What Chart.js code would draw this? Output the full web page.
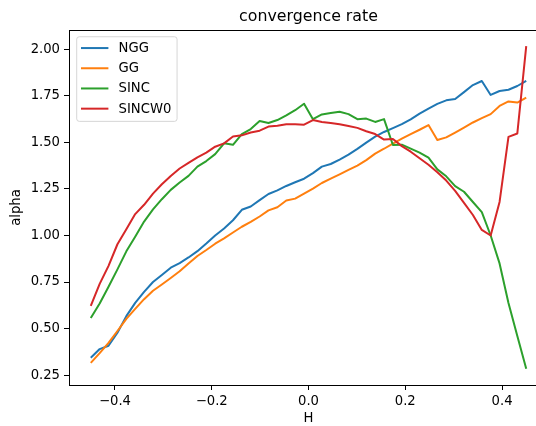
<!DOCTYPE html>
<html>
<head>
<meta charset="utf-8">
<title>convergence rate</title>
<script src="https://cdn.jsdelivr.net/npm/chart.js@4.4.1/dist/chart.umd.min.js"></script>
<style>
  html, body { margin: 0; padding: 0; background: #fff; overflow: hidden; }
  #wrap { width: 536px; height: 426px; overflow: hidden; }
  canvas { display: block; }
</style>
</head>
<body>
<div id="wrap"><canvas id="rate" width="548" height="426"></canvas></div>
<script>
// H grid (50 points, -0.45 .. 0.45)
const H = [
  -0.4500, -0.4316, -0.4133, -0.3949, -0.3765, -0.3582, -0.3398, -0.3214, -0.3031, -0.2847,
  -0.2663, -0.2480, -0.2296, -0.2112, -0.1929, -0.1745, -0.1561, -0.1378, -0.1194, -0.1010,
  -0.0827, -0.0643, -0.0459, -0.0276, -0.0092,  0.0092,  0.0276,  0.0459,  0.0643,  0.0827,
   0.1010,  0.1194,  0.1378,  0.1561,  0.1745,  0.1929,  0.2112,  0.2296,  0.2480,  0.2663,
   0.2847,  0.3031,  0.3214,  0.3398,  0.3582,  0.3765,  0.3949,  0.4133,  0.4316,  0.4500
];

const alphaNGG = [
  0.343, 0.390, 0.408, 0.478, 0.567, 0.638, 0.697, 0.750, 0.788, 0.827,
  0.852, 0.882, 0.916, 0.957, 1.000, 1.038, 1.082, 1.138, 1.156, 1.190,
  1.223, 1.242, 1.266, 1.286, 1.305, 1.335, 1.370, 1.384, 1.408, 1.434,
  1.465, 1.499, 1.531, 1.556, 1.577, 1.598, 1.624, 1.655, 1.682, 1.707,
  1.726, 1.733, 1.770, 1.808, 1.830, 1.755, 1.776, 1.783, 1.803, 1.830
];

const alphaGG = [
  0.316, 0.368, 0.423, 0.487, 0.552, 0.606, 0.658, 0.703, 0.737, 0.772,
  0.808, 0.850, 0.890, 0.922, 0.956, 0.985, 1.016, 1.047, 1.073, 1.102,
  1.135, 1.152, 1.188, 1.198, 1.225, 1.252, 1.282, 1.305, 1.328, 1.352,
  1.375, 1.405, 1.440, 1.466, 1.494, 1.520, 1.545, 1.568, 1.593, 1.513,
  1.527, 1.553, 1.580, 1.607, 1.630, 1.652, 1.696, 1.720, 1.714, 1.740
];

const alphaSINC = [
  0.557, 0.635, 0.725, 0.818, 0.915, 0.993, 1.075, 1.140, 1.195, 1.245,
  1.285, 1.320, 1.370, 1.400, 1.437, 1.495, 1.487, 1.545, 1.572, 1.615,
  1.604, 1.620, 1.645, 1.673, 1.708, 1.625, 1.650, 1.658, 1.665, 1.652,
  1.625, 1.628, 1.610, 1.625, 1.486, 1.488, 1.467, 1.445, 1.418, 1.355,
  1.318, 1.265, 1.235, 1.180, 1.126, 1.000, 0.850, 0.637, 0.460, 0.284
];

const alphaSINCW0 = [
  0.622, 0.740, 0.837, 0.953, 1.033, 1.115, 1.165, 1.225, 1.275, 1.320,
  1.360, 1.390, 1.420, 1.445, 1.477, 1.495, 1.532, 1.538, 1.553, 1.563,
  1.585, 1.590, 1.598, 1.597, 1.595, 1.620, 1.610, 1.604, 1.598, 1.588,
  1.578, 1.560, 1.545, 1.515, 1.518, 1.480, 1.450, 1.415, 1.380, 1.340,
  1.295, 1.240, 1.175, 1.110, 1.030, 1.000, 1.180, 1.530, 1.548, 2.017
];

const seriesNames = ["NGG", "GG", "SINC", "SINCW0"];
const seriesColors = ["#1f77b4", "#ff7f0e", "#2ca02c", "#d62728"];
const xTicks = [-0.4, -0.2, 0.0, 0.2, 0.4];
const yTicks = [0.25, 0.50, 0.75, 1.00, 1.25, 1.50, 1.75, 2.00];

const FONT = "DejaVu Sans";
const tickFont = { family: FONT, size: 13.2 };

const toPoints = (ys) => H.map((h, i) => ({ x: h, y: ys[i] }));
const minus = (s) => s.replace("-", "\u2212");

// axes box drawn on all four sides
const frame = {
  id: "frame",
  afterDatasetsDraw(chart) {
    const { ctx, chartArea: a } = chart;
    ctx.save();
    ctx.strokeStyle = "#000";
    ctx.lineWidth = 1;
    ctx.strokeRect(Math.round(a.left) + 0.5, Math.round(a.top) + 0.5,
                   Math.round(a.right - a.left), Math.round(a.bottom - a.top));
    ctx.restore();
  }
};

// legend sitting inside the plot, upper left
const innerLegend = {
  id: "innerLegend",
  afterDraw(chart) {
    const { ctx, chartArea: a } = chart;
    const fs = 13.2;
    ctx.save();
    ctx.font = fs + "px '" + FONT + "'";
    const textW = Math.max(...seriesNames.map(n => ctx.measureText(n).width));
    const x = a.left + 7.2, y = a.top + 6.3;
    const w = 5.3 + 26.4 + 10.6 + textW + 5.3;
    const h = 84.6;
    ctx.beginPath();
    ctx.roundRect(x + 0.5, y + 0.5, w, h, 2.6);
    ctx.fillStyle = "rgba(255,255,255,0.8)";
    ctx.fill();
    ctx.strokeStyle = "rgba(204,204,204,0.8)";
    ctx.lineWidth = 1;
    ctx.stroke();
    ctx.textBaseline = "middle";
    ctx.textAlign = "left";
    seriesNames.forEach((n, i) => {
      const cy = y + 11.8 + i * 20.2;
      ctx.beginPath();
      ctx.moveTo(x + 4.8, cy);
      ctx.lineTo(x + 32.2, cy);
      ctx.strokeStyle = seriesColors[i];
      ctx.lineWidth = 2;
      ctx.stroke();
      ctx.fillStyle = "#000";
      ctx.fillText(n, x + 42.4, cy + 0.5);
    });
    ctx.restore();
  }
};

const seriesData = [alphaNGG, alphaGG, alphaSINC, alphaSINCW0];

new Chart(document.getElementById("rate"), {
  type: "line",
  data: {
    datasets: seriesData.map((ys, i) => ({
      label: seriesNames[i],
      data: toPoints(ys),
      borderColor: seriesColors[i],
      backgroundColor: seriesColors[i],
      borderWidth: 2,
      pointRadius: 0,
      tension: 0,
      fill: false,
      borderJoinStyle: "round",
      order: seriesData.length - i
    }))
  },
  options: {
    responsive: false,
    animation: false,
    devicePixelRatio: 1,
    events: [],
    layout: { padding: { left: 0, right: 0, top: 0, bottom: 0 } },
    plugins: {
      legend: { display: false },
      tooltip: { enabled: false },
      title: {
        display: true,
        fullSize: false,
        text: "convergence rate",
        color: "#000",
        font: { family: FONT, size: 15.8, weight: "normal", lineHeight: 1.2 },
        padding: { top: 7, bottom: 4 }
      }
    },
    scales: {
      x: {
        type: "linear",
        min: -0.495,
        max: 0.495,
        afterBuildTicks: (s) => { s.ticks = xTicks.map(v => ({ value: v })); },
        afterFit: (s) => { s.height = 41; },
        grid: { display: true, drawOnChartArea: false, drawTicks: true, tickLength: 5, color: "#000", lineWidth: 1 },
        border: { display: false },
        ticks: {
          padding: 4, maxRotation: 0, autoSkip: false, color: "#000", font: tickFont,
          callback: (v) => minus(v.toFixed(1))
        },
        title: { display: true, text: "H", color: "#000", font: tickFont, padding: { top: 0, bottom: 0 } }
      },
      y: {
        type: "linear",
        min: 0.197,
        max: 2.104,
        afterBuildTicks: (s) => { s.ticks = yTicks.map(v => ({ value: v })); },
        afterFit: (s) => { s.width = 69; },
        grid: { display: true, drawOnChartArea: false, drawTicks: true, tickLength: 5, color: "#000", lineWidth: 1 },
        border: { display: false },
        ticks: {
          padding: 4, autoSkip: false, color: "#000", font: tickFont,
          callback: (v) => v.toFixed(2)
        },
        title: { display: true, text: "alpha", color: "#000", font: tickFont, padding: { top: 9, bottom: 0 } }
      }
    }
  },
  plugins: [frame, innerLegend]
});
</script>
</body>
</html>
